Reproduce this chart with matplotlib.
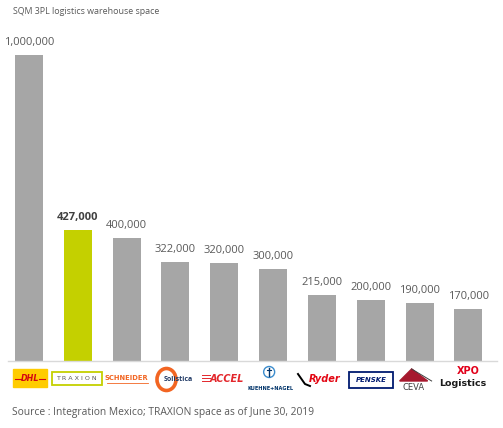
import matplotlib
matplotlib.use("Agg")
import matplotlib.pyplot as plt
from matplotlib.patches import Rectangle, Ellipse, Polygon

companies = ["DHL", "TRAXION", "SCHNEIDER", "Solistica", "ACCEL",
             "KUEHNE+NAGEL", "Ryder", "PENSKE", "CEVA", "XPO Logistics"]
space_sqm = [1000000, 427000, 400000, 322000, 320000,
             300000, 215000, 200000, 190000, 170000]
value_labels = ["1,000,000", "427,000", "400,000", "322,000", "320,000",
                "300,000", "215,000", "200,000", "190,000", "170,000"]
highlight = "TRAXION"

title_text = "SQM 3PL logistics warehouse space"
source_text = "Source : Integration Mexico; TRAXION space as of June 30, 2019"

plt.rcParams['font.family'] = ['Open Sans', 'DejaVu Sans']

W, H = 503, 428
fig = plt.figure(figsize=(W / 100, H / 100), dpi=100)

def fx(px):
    return px / W

def fy(py):
    return 1 - py / H

ax_left, ax_right, ax_top, ax_bot = 8, 497, 20, 361
ax = fig.add_axes([fx(ax_left), fy(ax_bot), fx(ax_right - ax_left), (ax_bot - ax_top) / H])
pitch = 48.83
x0 = 29
xlim = ((ax_left - x0) / pitch, (ax_right - x0) / pitch)
px_per_unit = 306.5 / 1e6
ax.set_xlim(*xlim)
ax.set_ylim(0, (ax_bot - ax_top) / px_per_unit)

xs = list(range(len(companies)))
colors = ["#C4D000" if c == highlight else "#A6A6A6" for c in companies]
ax.bar(xs, space_sqm, width=28 / pitch, color=colors, zorder=2)

for x, v, lab, c in zip(xs, space_sqm, value_labels, companies):
    bold = c == highlight
    ax.annotate(lab, (x, v), xytext=(0, 7.2), textcoords="offset points",
                ha="center", va="baseline", fontsize=8.0,
                color="#404040" if bold else "#595959",
                fontweight="bold" if bold else "normal")

for s in ["top", "right", "left"]:
    ax.spines[s].set_visible(False)
ax.spines["bottom"].set_color("#D9D9D9")
ax.spines["bottom"].set_linewidth(1.0)
ax.set_xticks([])
ax.set_yticks([])
ax.patch.set_alpha(0)

ly0, ly1 = 364, 396
lax = fig.add_axes([fx(ax_left), fy(ly1), fx(ax_right - ax_left), (ly1 - ly0) / H])
lax.set_xlim(*xlim)
lax.set_ylim(ly1, ly0)
lax.axis("off")

def u(px):
    return px / pitch

def cx(i, dpx=0):
    return i + u(dpx)

# DHL
lax.add_patch(Rectangle((cx(0, -16), 369), u(34), 18, color="#FFCC00"))
lax.text(cx(0, 1), 378.5, "DHL", ha="center", va="center", fontsize=5.8,
         color="#D40511", fontweight="bold", style="italic", family="DejaVu Sans")
lax.plot([cx(0, -14), cx(0, -8)], [378.5, 378.5], color="#D40511", lw=0.8)
lax.plot([cx(0, 10), cx(0, 16)], [378.5, 378.5], color="#D40511", lw=0.8)
# TRAXION
lax.add_patch(Rectangle((cx(1, -26), 372), u(50), 13, fill=False,
                        edgecolor="#C4D000", lw=1.3))
lax.text(cx(1, -1), 378.7, "T R A X I O N", ha="center", va="center",
         fontsize=4.6, color="#595959", family="DejaVu Sans")
# SCHNEIDER
lax.text(cx(2, 0), 378, "SCHNEIDER", ha="center", va="center", fontsize=4.9,
         color="#F26522", fontweight="bold", family="DejaVu Sans")
lax.plot([cx(2, -20), cx(2, 21)], [382.5, 382.5], color="#F26522", lw=0.6)
# Solistica
lax.add_patch(Ellipse((cx(3, -9), 379.5), u(19), 22, fill=False,
                      edgecolor="#F26522", lw=2.6))
lax.text(cx(3, 3), 379.5, "Solistica", ha="center", va="center", fontsize=5.0,
         color="#1F3864", fontweight="bold")
# ACCEL
for dy in (375, 378, 381):
    lax.plot([cx(4, -22), cx(4, -14)], [dy, dy], color="#E3262B", lw=0.7)
lax.text(cx(4, 3), 378.5, "ACCEL", ha="center", va="center", fontsize=7.0,
         color="#E3262B", fontweight="bold", style="italic", family="DejaVu Sans")
# KUEHNE+NAGEL
lax.add_patch(Ellipse((cx(5, -4), 372), u(11), 11, fill=False,
                      edgecolor="#3C8DCE", lw=1.0))
lax.plot([cx(5, -4), cx(5, -4)], [368, 376], color="#003369", lw=1.0)
lax.plot([cx(5, -6), cx(5, -2)], [369.5, 369.5], color="#003369", lw=0.8)
lax.text(cx(5, -3), 388.5, "KUEHNE+NAGEL", ha="center", va="center",
         fontsize=3.6, color="#003369", fontweight="bold", family="DejaVu Sans")
# Ryder
lax.plot([cx(6, -24), cx(6, -17), cx(6, -12)], [374, 384, 386], color="black", lw=1.4)
lax.text(cx(6, 3), 378.5, "Ryder", ha="center", va="center", fontsize=7.0,
         color="#E30613", fontweight="bold", style="italic", family="DejaVu Sans")
# PENSKE
lax.add_patch(Rectangle((cx(7, -22), 372), u(44), 16, fill=False,
                        edgecolor="#001A70", lw=1.3))
lax.text(cx(7, 0), 380, "PENSKE", ha="center", va="center", fontsize=5.0,
         color="#001A70", fontweight="bold", style="italic", family="DejaVu Sans")
# CEVA
lax.add_patch(Polygon([(cx(8, -20), 381), (cx(8, -8), 369), (cx(8, 8), 381)],
                      closed=True, color="#A6192E"))
lax.plot([cx(8, -8), cx(8, 12)], [369, 381], color="#404040", lw=0.7)
lax.text(cx(8, -6), 387.5, "CEVA", ha="center", va="center", fontsize=6.0,
         color="#404040", family="DejaVu Sans")
# XPO Logistics
lax.text(cx(9, 0), 371.5, "XPO", ha="center", va="center", fontsize=7.0,
         color="#E2001A", fontweight="bold", family="DejaVu Sans")
lax.text(cx(9, -6), 383, "Logistics", ha="center", va="center", fontsize=6.8,
         color="#1A1A1A", fontweight="bold", family="DejaVu Sans")

fig.text(fx(13), fy(11), title_text, ha="left", va="center", fontsize=6.4, color="#595959")
fig.text(fx(12), fy(412), source_text, ha="left", va="center", fontsize=7.4, color="#595959")

fig.savefig("out.png", dpi=100)
